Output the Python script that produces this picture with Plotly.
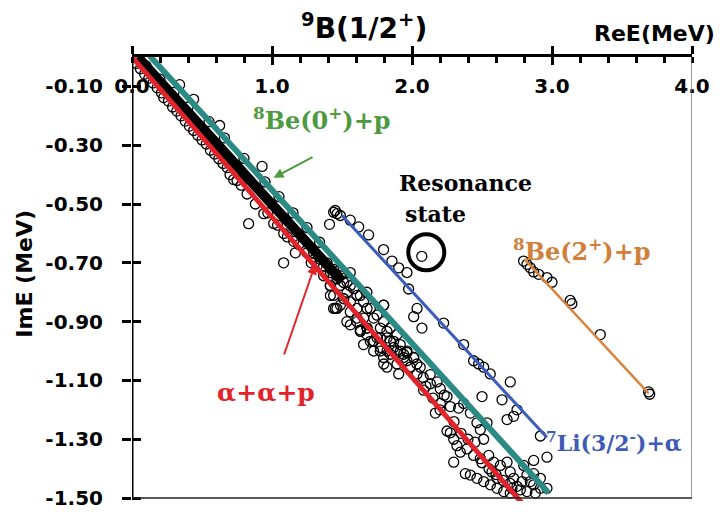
import plotly.graph_objects as go

# ---------------- data ----------------
x_ticks = [0, 1, 2, 3, 4]
y_ticks = [-0.1, -0.3, -0.5, -0.7, -0.9, -1.1, -1.3, -1.5]

# threshold lines
red_x = [0.0, 2.786]
red_y = [0.0, -1.517]
teal_x = [0.126, 2.976]
teal_y = [0.004, -1.483]
dense_x = [0.04, 1.50]
dense_y = [0.0, -0.762]
blue_x = [1.50, 2.964]
blue_y = [-0.539, -1.294]
orange_x = [2.802, 3.69]
orange_y = [-0.687, -1.144]

# main continuum band of eigenvalues
band_x = [0.03, 0.06, 0.09, 0.12, 0.15, 0.18, 0.21, 0.226, 0.26, 0.29, 0.32, 0.35, 0.38, 0.41,
          0.44, 0.47, 0.50, 0.53, 0.56, 0.59, 0.62, 0.65, 0.68, 0.70, 0.726, 0.75, 0.78, 0.822,
          0.881, 0.941, 0.97, 1.012, 1.04, 1.084, 1.11, 1.155, 1.191, 1.167, 1.25, 1.28, 1.322,
          1.369, 1.417, 1.417, 1.488, 1.512,
          0.10, 0.20, 0.30, 0.40, 0.44, 0.55, 0.66, 0.80, 0.95, 1.05, 1.15, 1.25, 1.34,
          1.393, 1.441, 1.488, 1.536, 1.584, 1.631, 1.679, 1.726, 1.56, 1.607, 1.655, 1.488,
          1.536, 1.464, 1.417, 1.345, 1.298, 1.369, 1.774, 1.822, 1.869, 1.917, 1.964, 1.56,
          1.631, 1.607, 1.679, 1.726, 1.774, 1.822,
          1.631, 1.678, 1.726, 1.774, 1.821, 1.845, 1.893, 1.94, 1.964, 2.012, 2.059, 1.988,
          1.798, 1.905, 2.036, 2.083, 2.131, 2.179, 2.202, 2.25, 2.167, 2.202, 2.274, 2.333,
          2.369, 2.417, 2.464, 2.488, 2.536, 2.512, 2.548, 2.583, 2.631, 2.679, 2.702, 2.726,
          2.786, 2.821, 2.869, 2.917, 2.964, 2.298, 2.381, 2.417, 2.464, 2.512, 2.56, 2.607,
          2.655, 2.702, 2.274, 2.298, 2.321, 2.25, 2.345, 2.393, 2.44, 2.488, 2.798, 2.869,
          2.845, 2.917, 2.571, 2.607, 2.714, 2.774, 2.821, 2.881,
          1.416, 1.44, 1.464, 1.512, 1.559, 1.607, 1.631, 1.678, 1.702, 1.75, 1.773, 1.797,
          1.845, 1.893, 1.821, 1.44, 1.535, 1.654, 1.726,
          1.464, 1.512, 1.559, 1.607, 1.654, 1.702, 1.75, 1.797, 1.797, 1.845, 1.893, 1.916,
          1.964, 2.012, 2.035, 1.869, 1.94, 1.988, 1.559, 1.488, 1.678,
          2.10, 2.15, 2.20, 2.13, 2.30, 2.35, 2.40, 2.45, 2.55, 2.60, 2.65, 2.70, 2.75, 2.08,
          2.23, 2.50]
band_y = [-0.022, -0.04, -0.058, -0.072, -0.088, -0.105, -0.122, -0.138, -0.15, -0.17, -0.184,
          -0.2, -0.218, -0.235, -0.25, -0.266, -0.282, -0.296, -0.317, -0.33, -0.346, -0.362,
          -0.376, -0.40, -0.417, -0.42, -0.436, -0.466, -0.50, -0.533, -0.53, -0.566, -0.572,
          -0.60, -0.612, -0.627, -0.638, -0.666, -0.666, -0.70, -0.711, -0.744, -0.777, -0.811,
          -0.844, -0.822,
          -0.03, -0.075, -0.12, -0.17, -0.144, -0.22, -0.275, -0.345, -0.425, -0.475, -0.53,
          -0.58, -0.63,
          -0.70, -0.722, -0.744, -0.766, -0.788, -0.811, -0.855, -0.888, -0.833, -0.855, -0.888,
          -0.777, -0.80, -0.755, -0.733, -0.688, -0.666, -0.711, -0.922, -0.955, -0.988, -1.0,
          -1.005, -0.911, -0.933, -0.888, -0.922, -0.966, -0.988, -1.0,
          -0.928, -0.944, -0.967, -0.955, -0.933, -0.967, -1.0, -1.011, -1.033, -1.022, -1.055,
          -1.055, -1.044, -1.078, -1.078, -1.133, -1.111, -1.105, -1.128, -1.155, -1.211, -1.178,
          -1.189, -1.194, -1.178, -1.211, -1.244, -1.267, -1.244, -1.30, -1.355, -1.378, -1.389,
          -1.378, -1.411, -1.433, -1.444, -1.422, -1.455, -1.467, -1.467, -1.378, -1.417, -1.422,
          -1.433, -1.444, -1.455, -1.467, -1.478, -1.483, -1.278, -1.30, -1.322, -1.272, -1.344,
          -1.333, -1.355, -1.366, -1.389, -1.417, -1.444, -1.433, -1.411, -1.433, -1.467, -1.472,
          -1.478, -1.483,
          -0.778, -0.811, -0.855, -0.822, -0.867, -0.90, -0.933, -0.922, -0.967, -0.955, -1.0,
          -1.022, -1.011, -1.044, -1.055, -0.855, -0.90, -0.978, -1.0,
          -0.744, -0.767, -0.778, -0.811, -0.833, -0.855, -0.878, -0.844, -0.90, -0.922, -0.944,
          -0.978, -1.0, -1.022, -1.044, -0.967, -1.022, -1.055, -0.733, -0.722, -0.80,
          -1.12, -1.16, -1.20, -1.08, -1.24, -1.28, -1.30, -1.31, -1.40, -1.42, -1.44, -1.45,
          -1.46, -1.09, -1.15, -1.38]

# scattered points off the main band
out_x = [0.34, 0.626, 0.929, 0.833, 1.083, 1.452, 1.411, 1.798]
out_y = [-0.094, -0.233, -0.372, -0.567, -0.70, -0.855, -0.569, -0.844]

# 7Li(3/2-)+alpha branch
li_x = [1.44, 1.464, 1.488, 1.452, 1.559, 1.619, 1.69, 1.797, 1.857, 1.905, 1.964, 1.976, 2.036,
        2.012, 2.071, 2.226, 2.369, 2.44, 2.476, 2.512, 2.559, 2.702, 2.5, 2.643, 2.679, 2.726,
        2.917, 2.964, 2.869, 2.75]
li_y = [-0.528, -0.533, -0.539, -0.522, -0.555, -0.578, -0.605, -0.655, -0.694, -0.717, -0.733,
        -0.789, -0.855, -0.883, -0.922, -0.905, -0.978, -1.033, -1.044, -1.055, -1.078, -1.105,
        -1.155, -1.166, -1.233, -1.222, -1.289, -1.361, -1.372, -1.2]

# 8Be(2+)+p branch
be2_x = [2.797, 2.821, 2.845, 2.869, 2.905, 2.964, 3.0, 3.13, 3.142, 3.345, 3.69, 3.698]
be2_y = [-0.694, -0.705, -0.717, -0.731, -0.739, -0.75, -0.766, -0.828, -0.839, -0.944, -1.139,
         -1.147]

# resonance state
res_x = [2.07]
res_y = [-0.678]
ring_x = [2.102]
ring_y = [-0.664]

# ---------------- figure ----------------
SERIF = "DejaVu Serif"
SANS = "DejaVu Sans"
circ = dict(symbol="circle", size=10, color="rgba(0,0,0,0)", line=dict(color="black", width=1.3))

fig = go.Figure()
for xs, ys in [(band_x, band_y), (out_x, out_y), (li_x, li_y), (be2_x, be2_y), (res_x, res_y)]:
    fig.add_trace(go.Scatter(x=xs, y=ys, mode="markers", marker=circ, hoverinfo="skip"))

fig.add_trace(go.Scatter(x=ring_x, y=ring_y, mode="markers",
                         marker=dict(symbol="circle", size=36, color="rgba(0,0,0,0)",
                                     line=dict(color="black", width=4))))
fig.add_trace(go.Scatter(x=dense_x, y=dense_y, mode="lines", line=dict(color="black", width=10)))
fig.add_trace(go.Scatter(x=red_x, y=red_y, mode="lines", line=dict(color="#e3232a", width=5)))
fig.add_trace(go.Scatter(x=teal_x, y=teal_y, mode="lines", line=dict(color="#2b8b84", width=6)))
fig.add_trace(go.Scatter(x=blue_x, y=blue_y, mode="lines", line=dict(color="#3b5cbd", width=3)))
fig.add_trace(go.Scatter(x=orange_x, y=orange_y, mode="lines", line=dict(color="#d9823b", width=2.5)))

tickfont = dict(family=SANS, size=20, color="black", weight="bold")
# the page has an 8px body margin: a 708x502 figure fills the 724x518 page exactly
fig.update_layout(
    width=708, height=502,
    margin=dict(l=124, r=24, t=49, b=0),
    paper_bgcolor="white", plot_bgcolor="white",
    showlegend=False,
    xaxis=dict(range=[0, 4], side="top", showline=True, linecolor="black", linewidth=3,
               ticks="outside", ticklen=8, tickwidth=3, tickcolor="black",
               tickmode="array", tickvals=x_ticks, showticklabels=False,
               minor=dict(ticks="inside", ticklen=6, tickwidth=3, tickcolor="black", dtick=0.2),
               showgrid=False, zeroline=False),
    xaxis2=dict(range=[0, 4], overlaying="x", side="top", anchor="y", showline=False,
                ticks="inside", ticklen=8, tickwidth=3, tickcolor="black",
                tickmode="array", tickvals=x_ticks, showticklabels=False,
                showgrid=False, zeroline=False),
    xaxis3=dict(range=[0, 4], overlaying="x", side="bottom", anchor="free", position=0.967,
                showline=False, ticks="", tickmode="array", tickvals=x_ticks,
                ticktext=[f"{v:.1f}" for v in x_ticks], tickfont=tickfont,
                ticklabeloverflow="allow", showgrid=False, zeroline=False),
    yaxis=dict(range=[-1.51, 0], showline=False, ticks="outside", ticklen=9, tickwidth=3,
               tickcolor="black", tickmode="array", tickvals=y_ticks,
               ticktext=[f"{v:.2f}" for v in y_ticks], tickfont=tickfont,
               ticklabelstandoff=15, ticklabeloverflow="allow",
               showgrid=False, zeroline=False),
    yaxis2=dict(range=[-1.51, 0], overlaying="y", anchor="x", side="left", showline=False,
                ticks="inside", ticklen=9, tickwidth=3, tickcolor="black",
                tickmode="array", tickvals=y_ticks, showticklabels=False,
                showgrid=False, zeroline=False),
)

# placeholder traces so the overlay axes render
fig.add_trace(go.Scatter(x=[None], y=[None], xaxis="x2", yaxis="y2", showlegend=False))
fig.add_trace(go.Scatter(x=[None], y=[None], xaxis="x3", yaxis="y", showlegend=False))

# frame lines
fig.add_shape(type="line", xref="x", yref="y", x0=0, x1=0, y0=0, y1=-1.5,
              line=dict(color="black", width=3))
fig.add_shape(type="line", xref="x", yref="y", x0=0, x1=4, y0=-1.5, y1=-1.5,
              line=dict(color="#222222", width=1.5))
fig.add_shape(type="line", xref="x", yref="y", x0=4, x1=4, y0=0, y1=-1.5,
              line=dict(color="#666666", width=1.3))

ann = []
ann.append(dict(text="<sup>9</sup>B(1/2<sup>+</sup>)", xref="paper", yref="paper", x=0.4134, y=1.069,
                showarrow=False, font=dict(family=SANS, size=28, color="black", weight="bold"),
                xanchor="center", yanchor="middle"))
ann.append(dict(text="ReE(MeV)", xref="paper", yref="paper", x=1.0446, y=1.052,
                showarrow=False, font=dict(family=SANS, size=22, color="black", weight="bold"),
                xanchor="right", yanchor="middle"))
ann.append(dict(text="ImE (MeV)", xref="paper", yref="paper", x=-0.191, y=0.512, textangle=-90,
                showarrow=False, font=dict(family=SANS, size=22, color="black", weight="bold"),
                xanchor="center", yanchor="middle"))
ann.append(dict(text="<sup>8</sup>Be(0<sup>+</sup>)+p", xref="x", yref="y", x=1.36, y=-0.21,
                showarrow=False, font=dict(family=SERIF, size=24, color="#4e9a3e", weight="bold")))
ann.append(dict(text="", xref="x", yref="y", axref="x", ayref="y", x=1.011, y=-0.411,
                ax=1.30, ay=-0.338, showarrow=True, arrowhead=2, arrowsize=1, arrowwidth=2,
                arrowcolor="#4e9a3e"))
ann.append(dict(text="α+α+p", xref="x", yref="y", x=0.955, y=-1.14,
                showarrow=False, font=dict(family=SERIF, size=25, color="#e3232a", weight="bold")))
ann.append(dict(text="", xref="x", yref="y", axref="x", ayref="y", x=1.309, y=-0.705,
                ax=1.083, ay=-1.017, showarrow=True, arrowhead=2, arrowsize=1, arrowwidth=2,
                arrowcolor="#e3232a"))
ann.append(dict(text="Resonance", xref="x", yref="y", x=2.384, y=-0.428,
                showarrow=False, font=dict(family=SERIF, size=22, color="black", weight="bold")))
ann.append(dict(text="state", xref="x", yref="y", x=2.17, y=-0.533,
                showarrow=False, font=dict(family=SERIF, size=22, color="black", weight="bold")))
ann.append(dict(text="<sup>8</sup>Be(2<sup>+</sup>)+p", xref="x", yref="y", x=3.213, y=-0.655,
                showarrow=False, font=dict(family=SERIF, size=24, color="#d0803a", weight="bold")))
ann.append(dict(text="<sup>7</sup>Li(3/2<sup>-</sup>)+α", xref="x", yref="y", x=2.94, y=-1.311,
                xanchor="left", showarrow=False,
                font=dict(family=SERIF, size=22, color="#3f5bb8", weight="bold")))
fig.update_layout(annotations=ann)

fig.write_html("out.html")
